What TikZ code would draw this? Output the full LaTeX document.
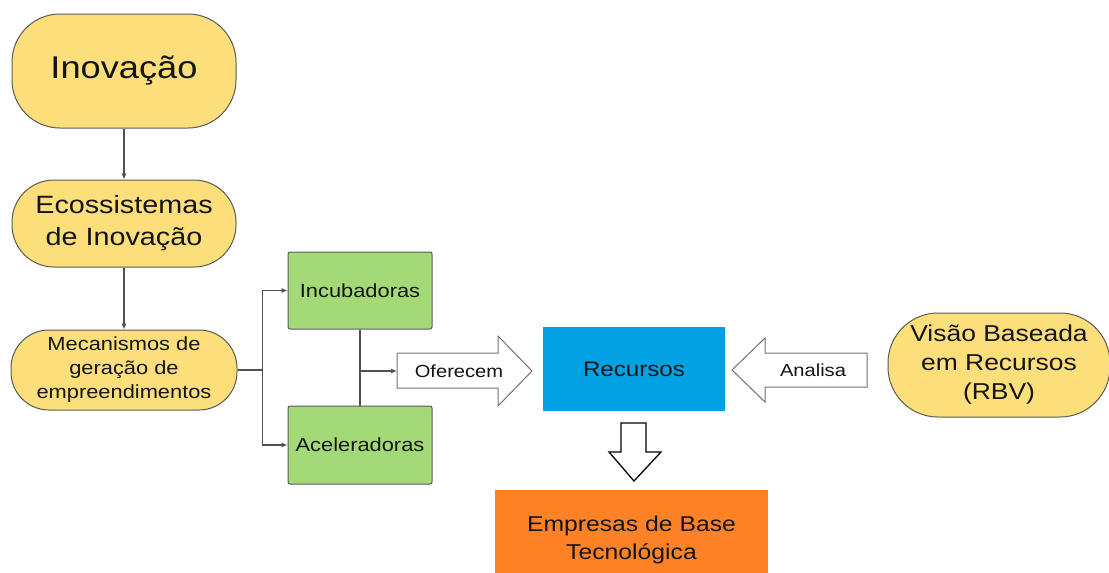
\documentclass[tikz,border=0pt]{standalone}
\usepackage{fontspec}
\setmainfont{Liberation Sans}[FakeStretch=1.15]
\usetikzlibrary{positioning}
\usetikzlibrary{arrows.meta}
\definecolor{amarelo}{HTML}{FCDE7B}
\definecolor{verde}{HTML}{A3D977}
\definecolor{azul}{HTML}{00A2E3}
\definecolor{laranja}{HTML}{FF8226}
\definecolor{borda}{HTML}{5A5A5A}
\definecolor{linha}{HTML}{505050}
\definecolor{texto}{HTML}{141414}
\tikzset{
    pill/.style = {rectangle, draw=borda, line width=1pt, fill=amarelo, align=center, text=texto},
    caixa/.style = {rectangle, rounded corners=2pt, draw=borda, line width=1pt, fill=verde, text=texto, minimum width=144pt, minimum height=77pt, font=\fontsize{19}{23}\selectfont},
    bloco/.style = {rectangle, align=center, text=texto},
    seta/.style = {draw=gray!90!black, line width=1pt, fill=white, line join=miter},
    setab/.style = {draw=black, line width=1.3pt, fill=white, line join=miter},
    setatxt/.style = {inner sep=0pt, text=texto, font=\fontsize{17.5}{20}\selectfont},
    edgen/.style = {-{Latex[length=6pt,width=5pt]}, line width=1.1pt, draw=linha},
    edgel/.style = {line width=1.1pt, draw=linha}
}

\begin{document}
\begin{tikzpicture}[x=1pt,y=-1pt]
\useasboundingbox (0,0) rectangle (1109,573);
\node[pill, minimum width=224pt, minimum height=114pt, rounded corners=48pt, font=\fontsize{31.5}{36}\selectfont] at (124,71) (inov) {Inovação};
\node[pill, minimum width=224pt, minimum height=87pt, rounded corners=42pt, font=\fontsize{25}{32}\selectfont] at (124,223.5) (ecos) {Ecossistemas\\de Inovação};
\node[pill, minimum width=226pt, minimum height=80pt, rounded corners=38pt, font=\fontsize{19}{24}\selectfont] at (124,370) (mec) {Mecanismos de\\geração de\\empreendimentos};
\node[caixa] at (360,290.5) (incub) {Incubadoras};
\node[caixa, minimum height=78pt] at (360,445) (acel) {Aceleradoras};
\node[bloco, fill=azul, minimum width=182pt, minimum height=84pt, font=\fontsize{21}{25}\selectfont] at (634,369) (recur) {Recursos};
\node[bloco, fill=laranja, minimum width=273pt, minimum height=100pt, font=\fontsize{21.5}{28}\selectfont] at (631.5,540) (empr) {Empresas de Base\\Tecnológica};
\node[pill, minimum width=222pt, minimum height=104pt, rounded corners=50pt, font=\fontsize{23}{29}\selectfont] at (999,365) (rbv) {Visão Baseada\\em Recursos\\(RBV)};
%
\draw[seta] (397,353) -- (498,353) -- (498,336) -- (532,371) -- (498,406) -- (498,388) -- (397,388) -- cycle;
\node[setatxt] at (459,371) (ofer) {Oferecem};
\coordinate (ofertail) at (397,371);
\draw[seta] (867,353) -- (765,353) -- (765,338) -- (732,370) -- (765,402) -- (765,387) -- (867,387) -- cycle;
\node[setatxt] at (813,370) (anal) {Analisa};
\draw[setab] (621,423) -- (646,423) -- (646,452) -- (661,452) -- (634,481) -- (609,452) -- (621,452) -- cycle;
%
\draw[edgen] (inov) -- (ecos);
\draw[edgen] (ecos) -- (mec);
\draw[edgen] (mec.east) -- ++(25,0) |- (incub.west);
\draw[edgen] (mec.east) -- ++(25,0) |- (acel.west);
\draw[edgen] (incub.south) |- (ofertail);
\draw[edgel] (acel.north) -- (acel.north |- ofertail);
\end{tikzpicture}
\end{document}
